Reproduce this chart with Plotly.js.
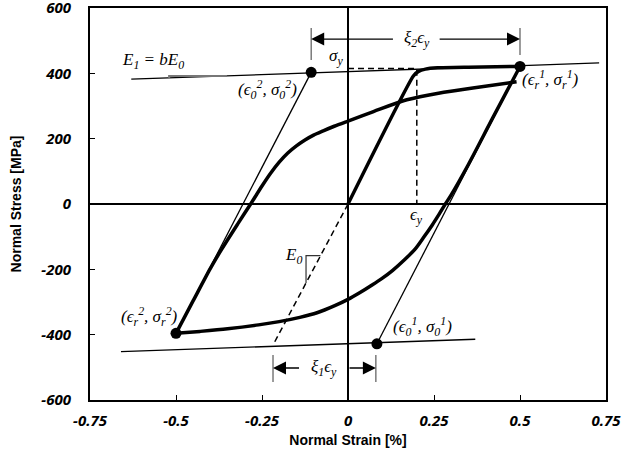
<!DOCTYPE html>
<html>
<head>
<meta charset="utf-8">
<script src="https://cdn.plot.ly/plotly-3.0.1.min.js"></script>
<style>html,body{margin:0;padding:0;background:#fff}#chart{width:622px;height:463px}</style>
</head>
<body>
<div id="chart"></div>
<script>
// ---- tick labels ----
const xTickVals = [-0.75, -0.5, -0.25, 0, 0.25, 0.5, 0.75];
const xTickText = ["-0.75", "-0.5", "-0.25", "0", "0.25", "0.5", "0.75"];
const yTickVals = [-600, -400, -200, 0, 200, 400, 600];
const yTickText = ["-600", "-400", "-200", "0", "200", "400", "600"];

// ---- thick curves (strain %, stress MPa) ----
const virginStrain = [0, 0.19, 0.205, 0.225, 0.26, 0.35, 0.5];
const virginStress = [0, 392, 406, 413, 417, 419, 421];

const unloadStrain = [0.5, 0.42, 0.35, 0.30, 0.283, 0.265, 0.245, 0.22, 0.195, 0.165, 0.13, 0.1, 0.07, 0.035, 0, -0.04, -0.09, -0.14, -0.2, -0.26, -0.35, -0.43, -0.5];
const unloadStress = [421, 262, 121, 28, 0, -31, -64, -102, -138, -170, -203, -227, -248, -271, -292, -312, -333, -347, -360, -370, -382, -390, -396];

const reloadStrain = [-0.5, -0.45, -0.4, -0.367, -0.32, -0.283, -0.25, -0.225, -0.2, -0.175, -0.15, -0.125, -0.1, -0.072, -0.04, 0, 0.074, 0.171, 0.267, 0.363, 0.49];
const reloadStress = [-396, -296, -197, -138, -60, 0, 55, 94, 128, 156, 178, 196, 211, 224, 238, 254, 283, 319, 340, 355, 374];

// ---- thin lines ----
const upperBoundStrain = [-0.63, 0.73];
const upperBoundStress = [382, 432];
const lowerBoundStrain = [-0.66, 0.37];
const lowerBoundStress = [-452, -414];
const asym1Strain = [0.5, 0.084];
const asym1Stress = [421, -428];
const asym2Strain = [-0.5, -0.107];
const asym2Stress = [-396, 403];

// ---- dashed helpers ----
const e0DashStrain = [0, -0.218];
const e0DashStress = [0, -432];
const yieldDashStrain = [0, 0.2, 0.2];
const yieldDashStress = [415, 415, 0];

// ---- slope triangles ----
const e0TriStrain = [-0.08, -0.122, -0.122];
const e0TriStress = [-158, -158, -242];
const e1TriStrain = [-0.352, -0.52, -0.52];
const e1TriStress = [392, 392, 386];

// ---- reversal / target points ----
const pointStrain = [-0.107, 0.5, -0.5, 0.084];
const pointStress = [403, 421, -396, -428];

// ---- dimension lines ----
const topBarStrain = [-0.107, -0.107, null, 0.5, 0.5];
const topBarStress = [441, 539, null, 456, 539];
const botBarStrain = [-0.218, -0.218, null, 0.081, 0.081];
const botBarStress = [-462, -545, null, -462, -545];
const topDimY = 505, topDimLeft = -0.107, topDimRight = 0.5, topTextL = 0.135, topTextR = 0.262;
const botDimY = -502, botDimLeft = -0.218, botDimRight = 0.081, botTextL = -0.138, botTextR = 0.0;

function line(x, y, w, extra) {
  return Object.assign({x: x, y: y, mode: 'lines', type: 'scatter', hoverinfo: 'skip',
    line: Object.assign({color: '#000', width: w}, extra || {})});
}

const traces = [
  line(upperBoundStrain, upperBoundStress, 1.3),
  line(lowerBoundStrain, lowerBoundStress, 1.3),
  line(asym1Strain, asym1Stress, 1.3),
  line(asym2Strain, asym2Stress, 1.3),
  line(e0DashStrain, e0DashStress, 1.5, {dash: '6px,4px'}),
  line(yieldDashStrain, yieldDashStress, 1.5, {dash: '6px,4px'}),
  line(e0TriStrain, e0TriStress, 1.2, {color: '#333'}),
  line(e1TriStrain, e1TriStress, 2, {color: '#777'}),
  line(topBarStrain, topBarStress, 1.3, {color: '#666'}),
  line(botBarStrain, botBarStress, 1.3, {color: '#666'}),
  line(virginStrain, virginStress, 3.5, {shape: 'spline', smoothing: 0.5}),
  line(unloadStrain, unloadStress, 3.5, {shape: 'spline', smoothing: 0.8}),
  line(reloadStrain, reloadStress, 3.5, {shape: 'spline', smoothing: 0.8}),
  {x: pointStrain, y: pointStress, mode: 'markers', type: 'scatter', hoverinfo: 'skip',
   marker: {color: '#000', size: 11}}
];

const mathFont = {family: 'Liberation Serif, DejaVu Serif, serif', size: 17, color: '#000', style: 'italic'};
function label(text, x, y, xanchor) {
  return {text: text, x: x, y: y, xref: 'x', yref: 'y', showarrow: false,
    xanchor: xanchor || 'center', yanchor: 'middle', font: mathFont};
}
function arrow(x, y, ax, ay) {
  return {text: '', x: x, y: y, ax: ax, ay: ay, xref: 'x', yref: 'y', axref: 'x', ayref: 'y',
    showarrow: true, arrowhead: 2, arrowsize: 2, arrowwidth: 1.3, arrowcolor: '#000', standoff: 0, startstandoff: 0};
}

const annotations = [
  label('<i>E<sub>1</sub> = bE<sub>0</sub></i>', -0.567, 438),
  label('<i>σ<sub>y</sub></i>', -0.036, 450),
  label('<i>(ϵ<sub>0</sub><sup>2</sup>, σ<sub>0</sub><sup>2</sup>)</i>', -0.235, 352),
  label('<i>(ϵ<sub>r</sub><sup>1</sup>, σ<sub>r</sub><sup>1</sup>)</i>', 0.59, 380),
  label('<i>(ϵ<sub>r</sub><sup>2</sup>, σ<sub>r</sub><sup>2</sup>)</i>', -0.578, -343),
  label('<i>(ϵ<sub>0</sub><sup>1</sup>, σ<sub>0</sub><sup>1</sup>)</i>', 0.218, -374),
  label('<i>ξ<sub>2</sub>ϵ<sub>y</sub></i>', 0.2, 505),
  label('<i>ξ<sub>1</sub>ϵ<sub>y</sub></i>', -0.069, -502),
  label('<i>ϵ<sub>y</sub></i>', 0.198, -37),
  label('<i>E<sub>0</sub></i>', -0.127, -160, 'right'),
  arrow(topDimLeft, topDimY, topTextL, topDimY),
  arrow(topDimRight, topDimY, topTextR, topDimY),
  arrow(botDimLeft, botDimY, botTextL, botDimY),
  arrow(botDimRight, botDimY, botTextR, botDimY)
];

const tickFont = {family: 'Noto Sans', size: 15, color: '#000', weight: 'bold', style: 'italic'};
const titleFont = {family: 'Liberation Sans, Arial, sans-serif', size: 14, color: '#000', weight: 'bold'};

const layout = {
  width: 622, height: 463,
  margin: {l: 90, r: 16, t: 8, b: 63, pad: 0},
  paper_bgcolor: '#fff', plot_bgcolor: '#fff',
  showlegend: false,
  xaxis: {
    range: [-0.75, 0.75], tickmode: 'array', tickvals: xTickVals, ticktext: xTickText,
    ticks: 'inside', ticklen: 5, tickwidth: 1, tickcolor: '#000',
    showline: true, linecolor: '#000', linewidth: 2, mirror: true,
    showgrid: false, zeroline: true, zerolinecolor: '#000', zerolinewidth: 1.3,
    tickfont: tickFont, ticklabelstandoff: 6, ticklabeloverflow: 'allow',
    title: {text: 'Normal Strain [%]', font: titleFont, standoff: 6},
    automargin: false
  },
  yaxis: {
    range: [-600, 600], tickmode: 'array', tickvals: yTickVals, ticktext: yTickText,
    ticks: 'inside', ticklen: 5, tickwidth: 1, tickcolor: '#000',
    showline: true, linecolor: '#000', linewidth: 2, mirror: true,
    showgrid: false, zeroline: true, zerolinecolor: '#000', zerolinewidth: 1.3,
    tickfont: tickFont, ticklabelstandoff: 14, ticklabeloverflow: 'allow',
    title: {text: 'Normal Stress [MPa]', font: titleFont, standoff: 16},
    automargin: false
  },
  annotations: annotations
};

Plotly.newPlot('chart', traces, layout, {displayModeBar: false, staticPlot: true});
</script>
</body>
</html>
